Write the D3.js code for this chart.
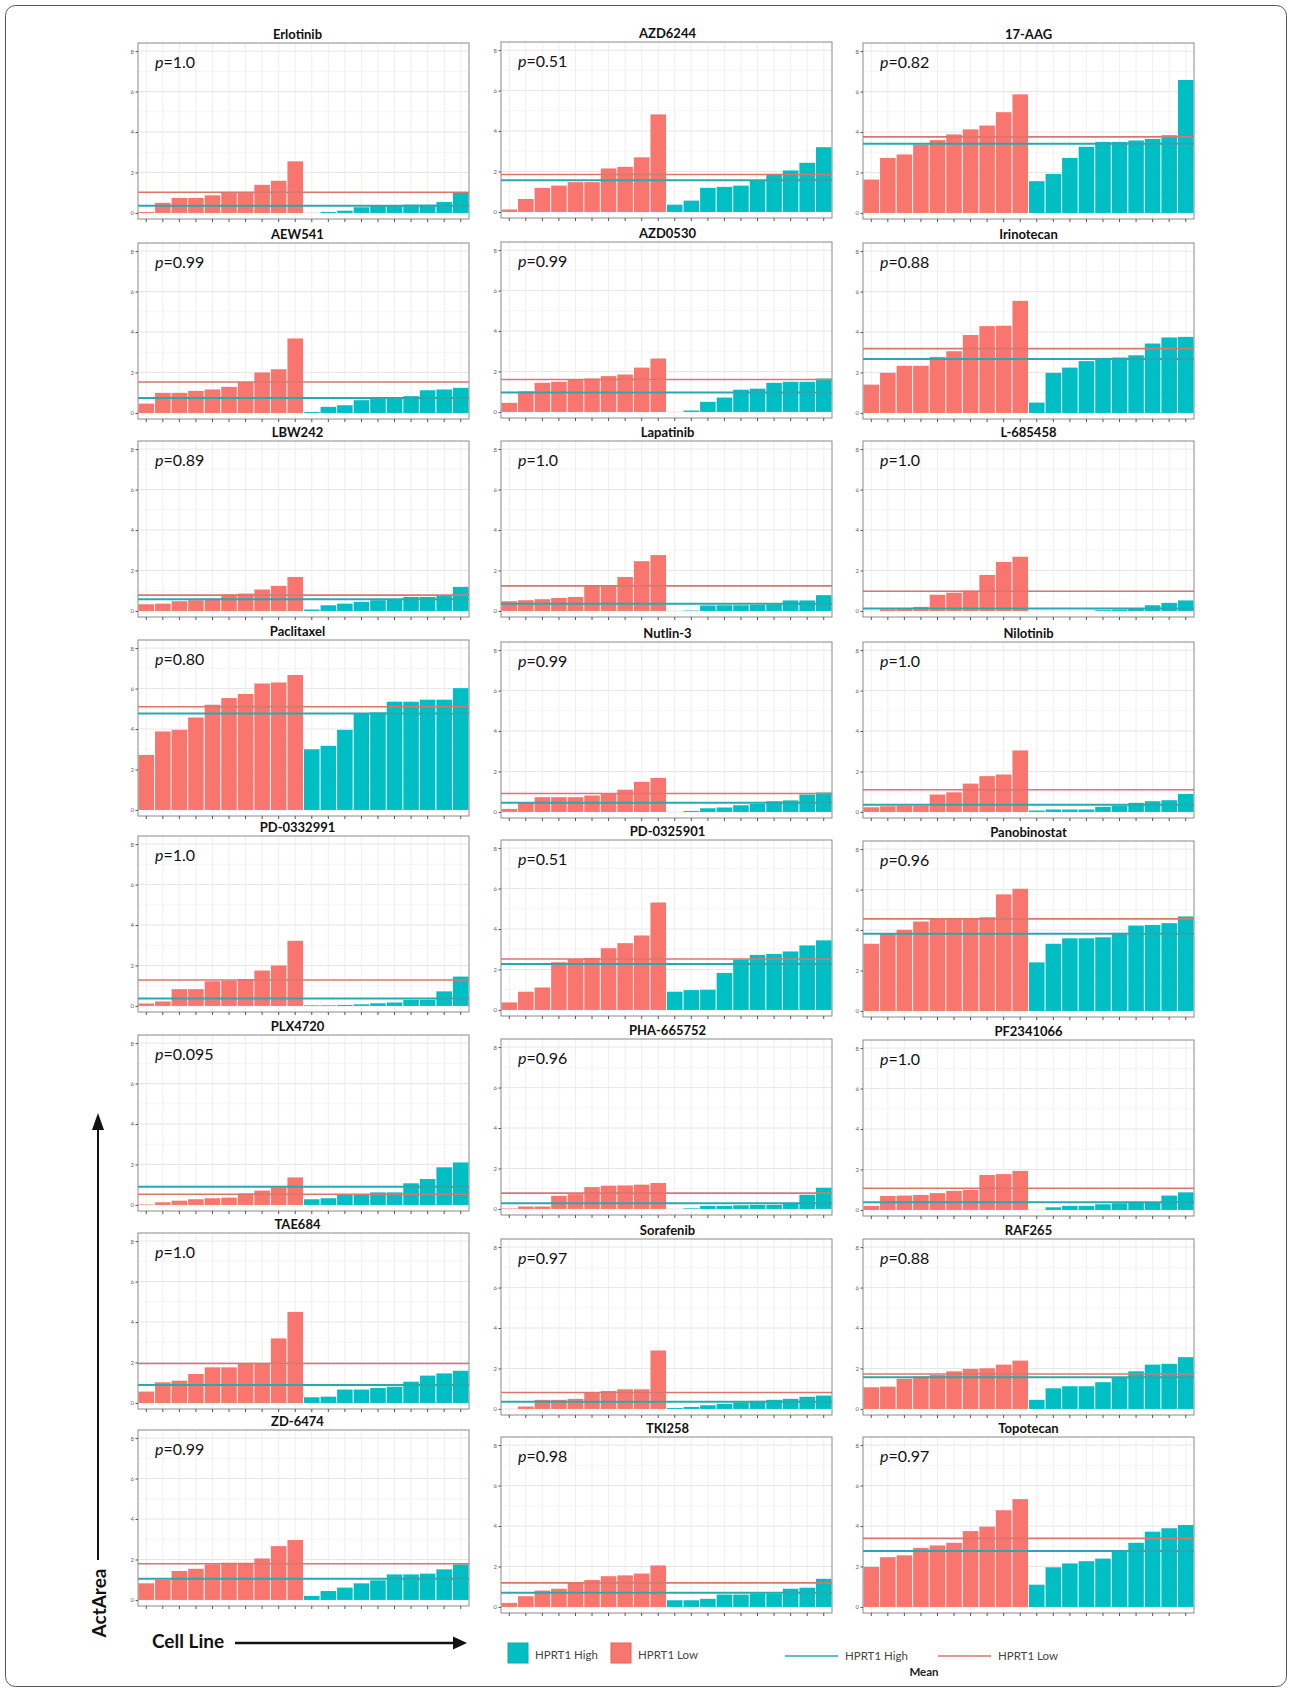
<!DOCTYPE html>
<html><head><meta charset="utf-8">
<script src="https://cdnjs.cloudflare.com/ajax/libs/d3/7.8.5/d3.min.js"></script>
<style>body{margin:0;background:#fff;} svg{display:block;}</style>
</head><body>
<svg id="chart" width="1292" height="1692"></svg>
<script>
// ---------------- DATA ----------------
const drugs = ["Erlotinib","AZD6244","17-AAG","AEW541","AZD0530","Irinotecan","LBW242","Lapatinib","L-685458",
  "Paclitaxel","Nutlin-3","Nilotinib","PD-0332991","PD-0325901","Panobinostat","PLX4720","PHA-665752","PF2341066",
  "TAE684","Sorafenib","RAF265","ZD-6474","TKI258","Topotecan"];
const pValues = ["1.0","0.51","0.82","0.99","0.99","0.88","0.89","1.0","1.0","0.80","0.99","1.0",
  "1.0","0.51","0.96","0.095","0.96","1.0","1.0","0.97","0.88","0.99","0.98","0.97"];
// HPRT1 Low (red) bars, sorted per drug
const lowValues = [
  [0.05,0.5,0.74,0.74,0.87,1.04,1.04,1.39,1.59,2.55],
  [0.12,0.64,1.19,1.3,1.47,1.47,2.15,2.23,2.7,4.82],
  [1.65,2.72,2.89,3.38,3.6,3.88,4.13,4.32,4.98,5.86],
  [0.46,0.99,0.99,1.09,1.16,1.29,1.53,2.0,2.16,3.68],
  [0.45,1.02,1.44,1.49,1.6,1.65,1.77,1.85,2.19,2.64],
  [1.4,1.98,2.33,2.33,2.77,3.05,3.85,4.29,4.31,5.54],
  [0.33,0.36,0.48,0.53,0.61,0.81,0.86,1.06,1.24,1.68],
  [0.48,0.53,0.58,0.64,0.69,1.24,1.24,1.68,2.46,2.76],
  [0,0.08,0.1,0.2,0.8,0.9,1.0,1.78,2.42,2.68],
  [2.72,3.88,3.96,4.57,5.2,5.53,5.73,6.25,6.3,6.67],
  [0.15,0.48,0.73,0.73,0.73,0.81,0.91,1.1,1.49,1.68],
  [0.23,0.28,0.31,0.31,0.86,0.97,1.4,1.77,1.85,3.04],
  [0.12,0.22,0.83,0.83,1.22,1.25,1.33,1.75,2.0,3.22],
  [0.37,0.9,1.11,2.36,2.52,2.57,3.05,3.3,3.68,5.31],
  [3.32,3.81,4.01,4.42,4.55,4.55,4.55,4.63,5.76,6.04],
  [0.02,0.13,0.21,0.28,0.33,0.36,0.57,0.71,0.87,1.36],
  [0.02,0.12,0.12,0.65,0.73,1.08,1.15,1.16,1.2,1.28],
  [0.2,0.69,0.71,0.74,0.83,0.94,0.99,1.73,1.77,1.93],
  [0.56,1.02,1.1,1.43,1.76,1.76,1.95,1.95,3.19,4.5],
  [0.0,0.12,0.45,0.45,0.5,0.81,0.89,0.97,0.97,2.89],
  [1.07,1.1,1.49,1.6,1.68,1.86,1.98,2.01,2.19,2.39],
  [0.82,0.99,1.43,1.54,1.76,1.84,1.84,2.05,2.66,2.96],
  [0.2,0.53,0.81,0.9,1.23,1.33,1.52,1.56,1.65,2.05],
  [1.98,2.46,2.55,2.92,3.04,3.17,3.75,3.97,4.78,5.33]
];
// HPRT1 High (teal) bars, sorted per drug
const highValues = [
  [0,0.05,0.11,0.28,0.36,0.36,0.41,0.41,0.54,1.0],
  [0.36,0.56,1.19,1.24,1.3,1.57,1.88,2.05,2.43,3.2],
  [1.57,1.93,2.72,3.27,3.51,3.51,3.58,3.66,3.84,6.57],
  [0.05,0.3,0.38,0.63,0.76,0.76,0.83,1.12,1.16,1.24],
  [0,0.07,0.5,0.71,1.1,1.15,1.44,1.49,1.49,1.65],
  [0.51,1.98,2.24,2.56,2.72,2.74,2.85,3.43,3.73,3.76],
  [0.07,0.28,0.36,0.45,0.53,0.56,0.69,0.69,0.78,1.19],
  [0,0.02,0.27,0.28,0.28,0.3,0.33,0.52,0.52,0.78],
  [0,0,0,0,0.04,0.06,0.12,0.28,0.4,0.52],
  [3.0,3.17,3.96,4.77,4.82,5.35,5.35,5.45,5.45,6.02],
  [0,0.05,0.18,0.22,0.33,0.4,0.53,0.57,0.86,0.96],
  [0.07,0.12,0.12,0.12,0.25,0.31,0.45,0.53,0.58,0.89],
  [0.03,0.03,0.05,0.08,0.13,0.17,0.3,0.3,0.72,1.45],
  [0.9,0.98,1.0,1.83,2.49,2.72,2.77,2.89,3.19,3.44],
  [2.4,3.32,3.59,3.59,3.64,3.86,4.22,4.25,4.34,4.67],
  [0.28,0.33,0.49,0.49,0.62,0.62,1.07,1.28,1.86,2.1],
  [0,0.03,0.15,0.15,0.18,0.2,0.2,0.3,0.7,1.05],
  [0,0.13,0.2,0.2,0.28,0.33,0.36,0.38,0.71,0.87],
  [0.28,0.31,0.66,0.66,0.74,0.8,1.05,1.35,1.46,1.59],
  [0.05,0.1,0.18,0.25,0.32,0.4,0.45,0.5,0.6,0.66],
  [0.45,1.02,1.12,1.12,1.32,1.57,1.86,2.19,2.23,2.56],
  [0.2,0.44,0.61,0.82,0.97,1.26,1.26,1.3,1.51,1.76],
  [0.33,0.33,0.4,0.61,0.61,0.66,0.66,0.9,0.95,1.39],
  [1.1,1.96,2.15,2.26,2.39,2.81,3.17,3.72,3.89,4.05]
];
const lowMeans  = [1.02,1.85,3.76,1.53,1.6,3.18,0.78,1.24,0.97,5.1,0.91,1.1,1.28,2.52,4.55,0.53,0.78,1.07,1.95,0.81,1.73,1.79,1.19,3.39];
const highMeans = [0.36,1.57,3.42,0.74,0.96,2.66,0.58,0.36,0.12,4.77,0.45,0.36,0.37,2.27,3.81,0.9,0.28,0.38,0.89,0.36,1.57,1.05,0.7,2.76];
const yTicks = [0,2,4,6,8];
const yMinor = [1,3,5,7];
const groupLabels = ["HPRT1 High","HPRT1 Low"];

// ---------------- LAYOUT ----------------
const colLeft = [138, 501, 863];
const panelW = 331;
const panelH = 176;
const titleDx = [-6, 1, 0];
const panelTops = [
  [43,42,43],[243,242,243],[441,441,441],[640,642,642],
  [836,840,841],[1035,1039,1040],[1233,1239,1239],[1430,1437,1437]
];
const RED = "#F8766D", TEAL = "#00BFC4";
const RED_LINE = "#d9776f", TEAL_LINE = "#2aa9ad";
const FONT = "Lato, 'Open Sans', sans-serif";

const svg = d3.select("#chart");
svg.append("rect").attr("width",1292).attr("height",1692).attr("fill","#fff");
svg.append("rect").attr("x",5.5).attr("y",5.5).attr("width",1281).attr("height",1681)
  .attr("rx",10).attr("fill","none").attr("stroke","#555").attr("stroke-width",1);

drugs.forEach((name, i) => {
  const row = Math.floor(i/3), col = i%3;
  const left = colLeft[col], top = panelTops[row][col];
  const vals = lowValues[i].map((v,k)=>({v, g:"low", k})).concat(highValues[i].map((v,k)=>({v, g:"high", k:k+10})));
  const x = d3.scaleBand().domain(d3.range(vals.length)).range([left, left+panelW]).padding(0);
  const y = d3.scaleLinear().domain([-0.3, 8.4]).range([top+panelH, top]);
  const g = svg.append("g");

  // grid
  g.selectAll(".hmin").data(yMinor).join("line")
    .attr("x1",left).attr("x2",left+panelW).attr("y1",d=>y(d)).attr("y2",d=>y(d))
    .attr("stroke","#f3f3f3").attr("stroke-width",0.8);
  g.selectAll(".hmaj").data(yTicks).join("line")
    .attr("x1",left).attr("x2",left+panelW).attr("y1",d=>y(d)).attr("y2",d=>y(d))
    .attr("stroke","#e6e6e6").attr("stroke-width",1);
  g.selectAll(".vg").data(vals).join("line")
    .attr("x1",d=>x(d.k)+x.bandwidth()/2).attr("x2",d=>x(d.k)+x.bandwidth()/2)
    .attr("y1",top).attr("y2",top+panelH)
    .attr("stroke","#ebebeb").attr("stroke-width",0.8);

  // bars
  g.selectAll(".bar").data(vals).join("rect")
    .attr("x",d=>x(d.k)+0.5).attr("width",x.bandwidth()-1)
    .attr("y",d=>y(d.v)).attr("height",d=>Math.max(0,y(0)-y(d.v)))
    .attr("fill",d=>d.g==="low"?RED:TEAL);

  // mean lines
  g.append("line").attr("x1",left).attr("x2",left+panelW)
    .attr("y1",y(highMeans[i])).attr("y2",y(highMeans[i]))
    .attr("stroke",TEAL_LINE).attr("stroke-width",2);
  g.append("line").attr("x1",left).attr("x2",left+panelW)
    .attr("y1",y(lowMeans[i])).attr("y2",y(lowMeans[i]))
    .attr("stroke",RED_LINE).attr("stroke-width",1.6);

  // border
  g.append("rect").attr("x",left).attr("y",top).attr("width",panelW).attr("height",panelH)
    .attr("fill","none").attr("stroke","#8a8a8a").attr("stroke-width",1);

  // axes
  const ya = g.append("g").attr("transform",`translate(${left},0)`)
    .call(d3.axisLeft(y).tickValues(yTicks).tickSize(2.5).tickPadding(1.5));
  ya.select(".domain").remove();
  ya.selectAll("line").attr("stroke","#555");
  ya.selectAll("text").attr("font-size",6).attr("fill","#666").attr("font-family",FONT);
  const xa = g.append("g").attr("transform",`translate(0,${top+panelH})`)
    .call(d3.axisBottom(x).tickSize(3).tickFormat(""));
  xa.select(".domain").remove();
  xa.selectAll("line").attr("stroke","#555");

  // title
  g.append("text").attr("x",left+panelW/2+titleDx[col]).attr("y",top-4)
    .attr("text-anchor","middle").attr("font-family",FONT).attr("font-weight","bold")
    .attr("font-size",13).attr("fill","#111").text(name);

  // p value
  const pt = g.append("text").attr("x",left+17).attr("y",top+25)
    .attr("font-family",FONT).attr("font-size",16).attr("fill","#111");
  pt.append("tspan").attr("font-style","italic").text("p");
  pt.append("tspan").text("=" + pValues[i]);
});

// ---- axis annotations ----
const ann = svg.append("g");
ann.append("line").attr("x1",98).attr("x2",98).attr("y1",1560).attr("y2",1126)
  .attr("stroke","#111").attr("stroke-width",2);
ann.append("path").attr("d","M98,1113 L92,1130 L104,1130 Z").attr("fill","#111");
ann.append("text").attr("transform","translate(106,1603) rotate(-90)")
  .attr("text-anchor","middle").attr("font-family",FONT).attr("font-weight","bold")
  .attr("font-size",19).attr("fill","#111").text("ActArea");
ann.append("text").attr("x",152).attr("y",1648).attr("font-family",FONT).attr("font-weight","bold")
  .attr("font-size",19).attr("fill","#111").text("Cell Line");
ann.append("line").attr("x1",235).attr("x2",456).attr("y1",1643).attr("y2",1643)
  .attr("stroke","#111").attr("stroke-width",2.5);
ann.append("path").attr("d","M467,1643 L453,1636.5 L453,1649.5 Z").attr("fill","#111");

// ---- legends ----
const leg = svg.append("g").attr("font-family",FONT).attr("font-size",11.5).attr("fill","#444");
const sqX = [508, 611], sqFill = [TEAL, RED];
groupLabels.forEach((lab, j) => {
  leg.append("rect").attr("x",sqX[j]).attr("y",1643).attr("width",20).attr("height",20)
    .attr("fill",sqFill[j]).attr("stroke", j===0?"#1aa3a8":"#e0645c").attr("stroke-width",1);
  leg.append("text").attr("x",sqX[j]+27).attr("y",1659).text(lab);
});
const lnX = [785, 938], lnCol = [TEAL_LINE, RED_LINE];
groupLabels.forEach((lab, j) => {
  leg.append("line").attr("x1",lnX[j]).attr("x2",lnX[j]+53).attr("y1",1656).attr("y2",1656)
    .attr("stroke",lnCol[j]).attr("stroke-width",1.5);
  leg.append("text").attr("x",lnX[j]+60).attr("y",1660).text(lab);
});
leg.append("text").attr("x",924).attr("y",1676).attr("text-anchor","middle")
  .attr("font-weight","bold").attr("fill","#222").text("Mean");
</script>
</body></html>
